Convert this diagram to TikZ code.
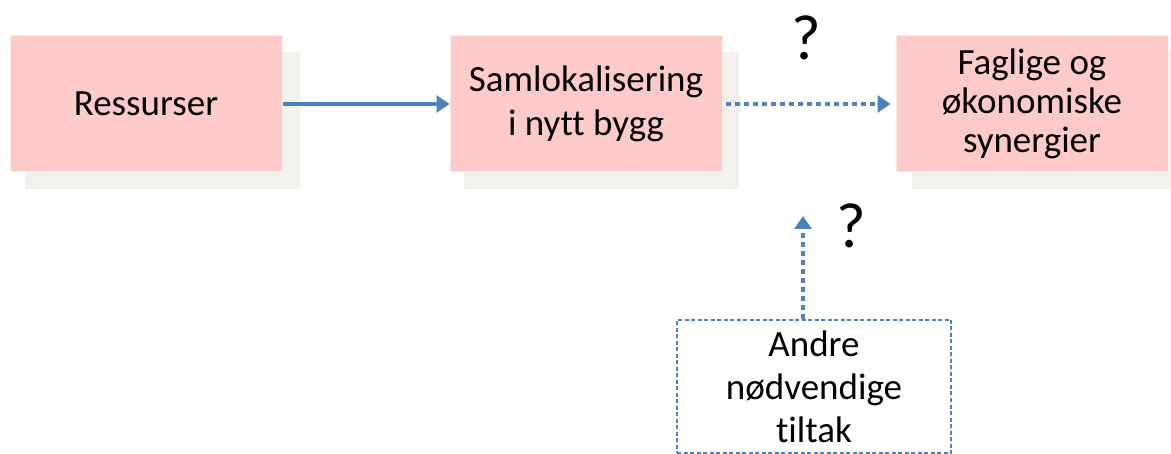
\documentclass[tikz,border=0pt]{standalone}
\usepackage{fontspec}
\setmainfont[Ligatures=NoCommon]{Carlito}
\usetikzlibrary{arrows.meta}
\definecolor{pinkbox}{HTML}{FFCACA}
\definecolor{pinkedge}{HTML}{F2EEE4}
\definecolor{shadowc}{HTML}{F2F1EC}
\definecolor{arrowblue}{HTML}{4F81BD}
\tikzset{
  box/.style={draw=pinkedge, line width=1pt, fill=pinkbox, minimum width=272pt, minimum height=136pt,
    inner sep=0pt, align=center, font=\fontsize{37}{39}\selectfont},
  tbox/.style={draw=arrowblue, line width=1.5pt, dash pattern=on 4pt off 2.5pt, minimum width=274pt, minimum height=133pt,
    inner sep=0pt, align=center, font=\fontsize{37}{43}\selectfont},
  conn/.style={draw=arrowblue, line width=4pt, line cap=butt, -{Triangle[length=13pt,width=17pt]}},
  dotconn/.style={conn, dash pattern=on 5pt off 4pt},
  qmark/.style={font=\fontsize{64}{70}\selectfont, inner sep=0pt},
}
\begin{document}
\begin{tikzpicture}[x=1pt,y=-1pt]
\useasboundingbox (0,0) rectangle (1171,454);
% shadows
\fill[shadowc] (25,52) rectangle (300,189);
\fill[shadowc] (464,52) rectangle (739,189);
\fill[shadowc] (912,52) rectangle (1190,189);
% boxes
\node[box] (res) at (146,104) {Ressurser};
\node[box, font=\fontsize{37}{44}\selectfont] (sam) at (586,104) {Samlokalisering\\i nytt bygg};
\node[box] (fag) at (1032,104) {Faglige og\\økonomiske\\synergier};
\node[tbox] (andre) at (814,386.5) {Andre\\nødvendige\\tiltak};
% question marks
\node[qmark] (q1) at (806,38) {?};
\node[qmark] (q2) at (851,226) {?};
% connectors
\draw[conn] (res.east) -- (sam.west);
\draw[dotconn] ([xshift=3pt]sam.east) -- ([xshift=-5pt]fag.west);
\coordinate (upend) at (803,216);
\draw[dotconn] ([xshift=-11pt]andre.north) -- (upend);
\end{tikzpicture}
\end{document}
